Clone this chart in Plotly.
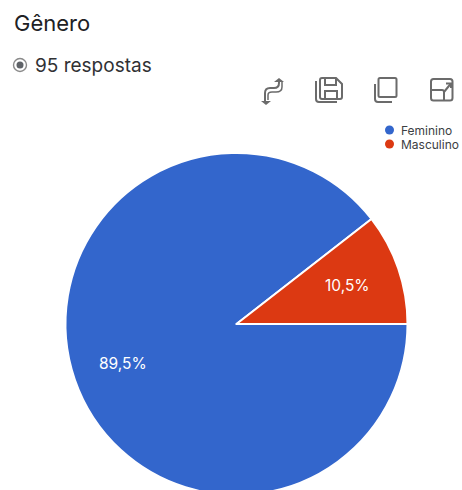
import plotly.graph_objects as go

# Survey answers
categories = ["Feminino", "Masculino"]
responses = [85, 10]
colors = ["#3366CC", "#DC3912"]
title_text = "Gênero"
subtitle_text = "95 respostas"

W, H = 462, 500
CX, CY, R = 236.5, 324, 171
ICON = "#6b6b6b"
FONT = "Inter, sans-serif"

fig = go.Figure(go.Pie(
    labels=categories,
    values=responses,
    sort=False,
    direction="clockwise",
    rotation=90,
    marker=dict(colors=colors, line=dict(color="white", width=2)),
    textinfo="none",
    hoverinfo="label+percent",
    showlegend=False,
    domain=dict(x=[(CX - R) / W, (CX + R) / W],
                y=[(H - CY - R) / H, (H - CY + R) / H]),
))

# Toolbar glyphs outlined in page pixels
def line(path, width=2):
    return dict(type="path", xref="x", yref="y", path=path,
                line=dict(color=ICON, width=width), layer="above")

def rounded_box(x0, y0, x1, y1, r=2):
    return (f"M {x0 + r} {y0} L {x1 - r} {y0} Q {x1} {y0} {x1} {y0 + r} "
            f"L {x1} {y1 - r} Q {x1} {y1} {x1 - r} {y1} "
            f"L {x0 + r} {y1} Q {x0} {y1} {x0} {y1 - r} "
            f"L {x0} {y0 + r} Q {x0} {y0} {x0 + r} {y0} Z")

shapes = [
    # radio marker beside the response count
    dict(type="circle", xref="x", yref="y", x0=13.5, y0=58.5, x1=26.5, y1=71.5,
         line=dict(color="#8a8a8a", width=1.4), fillcolor="white"),
    dict(type="circle", xref="x", yref="y", x0=16.5, y0=61.5, x1=23.5, y1=68.5,
         line=dict(width=0), fillcolor="#5f6368"),
    # reorder arrows
    line("M 265 101 L 265 93 Q 265 88 270 88 L 274 88 Q 279 88 279 83 L 279 80"),
    line("M 268 100 L 268 95 Q 268 92 272 92 L 276 92 Q 282 92 282 87 L 282 81", 1.5),
    dict(type="path", xref="x", yref="y", path="M 274 82 L 279 78 L 284 82 Z",
         fillcolor=ICON, line=dict(width=0)),
    dict(type="path", xref="x", yref="y", path="M 261 101 L 266 105 L 271 101 Z",
         fillcolor=ICON, line=dict(width=0)),
    # stacked floppy disks
    line("M 322 78 L 336 78 L 342 84 L 342 97 Q 342 99 340 99 L 322 99 Q 320 99 320 97 L 320 80 Q 320 78 322 78 Z"),
    line("M 316 81 L 316 99 Q 316 102 319 102 L 337 102"),
    line("M 325 78 L 325 85 L 336 85 L 336 78"),
    line("M 325 99 L 325 91 L 337 91 L 337 99"),
    # stacked pages
    line(rounded_box(378.5, 78, 396.5, 97, 1.5)),
    line("M 375 84 L 375 99 Q 375 102 378 102 L 392 102"),
    # expand box
    line(rounded_box(431, 79, 452.5, 100.5, 2.5)),
    line("M 431 90 L 442 90 Q 444 90 444 92 L 444 100"),
    line("M 444 92 L 450.5 84"),
    line("M 446 83.5 L 451 83.5 L 451 88"),
]

annotations = [
    dict(x=11.5, y=23, text=title_text, xanchor="left", yanchor="middle", showarrow=False,
         font=dict(family=FONT, size=22, color="#202124")),
    dict(x=33, y=65, text=subtitle_text, xanchor="left", yanchor="middle", showarrow=False,
         font=dict(family=FONT, size=19, color="#303134")),
]

# Percentage labels, worked out from the answer counts
total = sum(responses)
label_positions = [(123, 363), (347, 285)]
for count, (lx, ly) in zip(responses, label_positions):
    share = f"{100 * count / total:.1f}%".replace(".", ",")
    annotations.append(dict(x=lx, y=ly, text=share, xanchor="center", yanchor="middle",
                            showarrow=False, font=dict(family=FONT, size=15.5, color="white")))

# Legend entries with round swatches
for i, (name, color) in enumerate(zip(categories, colors)):
    y = 130 + i * 14
    shapes.append(dict(type="circle", xref="x", yref="y", x0=385, y0=y - 4.5, x1=394, y1=y + 4.5,
                       line=dict(width=0), fillcolor=color))
    annotations.append(dict(x=400, y=y, text=name, xanchor="left", yanchor="middle", showarrow=False,
                            borderpad=0, font=dict(family=FONT, size=12, color="#3c4043")))

fig.update_layout(
    width=W, height=H,
    margin=dict(l=0, r=0, t=0, b=0),
    paper_bgcolor="white",
    plot_bgcolor="rgba(0,0,0,0)",
    xaxis=dict(range=[0, W], visible=False, fixedrange=True, domain=[0, 1]),
    yaxis=dict(range=[H, 0], visible=False, fixedrange=True, domain=[0, 1]),
    shapes=shapes,
    annotations=annotations,
)

# The shapes are placed on the hidden pixel axes, which need a trace to exist
fig.add_trace(go.Scatter(x=[], y=[], showlegend=False))

fig.write_html("out.html", config={"displayModeBar": False},
               post_script="document.documentElement.style.overflow='hidden';document.body.style.overflow='hidden';")
